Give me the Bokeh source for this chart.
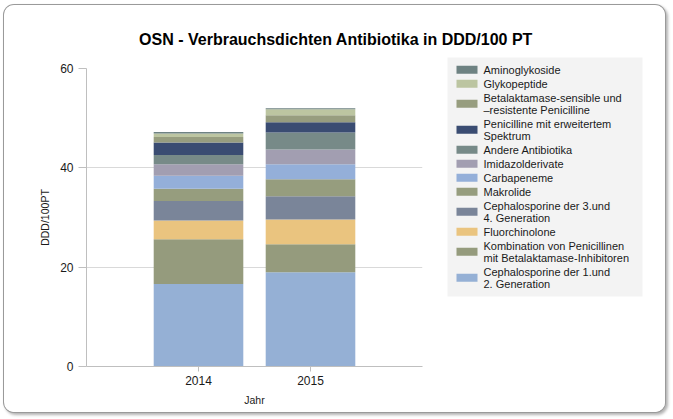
from bokeh.plotting import figure
from bokeh.layouts import column, row
from bokeh.models import FactorRange, Range1d, FixedTicker, ColumnDataSource
from bokeh.core.properties import value
from bokeh.embed import file_html
from bokeh.resources import INLINE

# ---------------- data ----------------
years = ["2014", "2015"]
# stacked bottom -> top
series = [
    "Cephalosporine der 1.und\n2. Generation",
    "Kombination von Penicillinen\nmit Betalaktamase-Inhibitoren",
    "Fluorchinolone",
    "Cephalosporine der 3.und\n4. Generation",
    "Makrolide",
    "Carbapeneme",
    "Imidazolderivate",
    "Andere Antibiotika",
    "Penicilline mit erweitertem\nSpektrum",
    "Betalaktamase-sensible und\n\u2013resistente Penicilline",
    "Glykopeptide",
    "Aminoglykoside",
]
values_2014 = [16.6, 9.0, 3.8, 3.9, 2.5, 2.6, 2.3, 1.9, 2.5, 1.1, 0.7, 0.3]
values_2015 = [19.0, 5.6, 5.0, 4.7, 3.4, 3.0, 3.0, 3.4, 2.1, 1.4, 1.2, 0.2]
colors = ["#95B0D5", "#959B7D", "#EAC47F", "#7A8599", "#969D7E", "#94AFD9",
          "#A29EB1", "#778A88", "#3A4C72", "#979D7F", "#BCC5A1", "#6E8282"]
y_ticks = [0, 20, 40, 60]
title_text = "OSN - Verbrauchsdichten Antibiotika in DDD/100 PT"
x_label = "Jahr"
y_label = "DDD/100PT"

# ---------------- layout (page px) ----------------
FONT = "Liberation Sans"
X0, Y0, X1, Y1 = 4, 5, 665, 412      # outer rounded box
TITLE_B = 55                          # bottom of title strip
SPLIT = 440                           # chart | legend split
FRAME_L, FRAME_R, FRAME_T, FRAME_B = 86, 422, 68, 366

# ---- title strip ----
pt = figure(width=X1 - X0, height=TITLE_B - Y0,
            x_range=Range1d(X0, X1), y_range=Range1d(TITLE_B, Y0),
            output_backend="svg", toolbar_location=None,
            min_border=0, outline_line_color=None, frame_align=False)
pt.axis.visible = False
pt.grid.visible = False
pt.text(x=[(X0 + X1) / 2 + 1], y=[39], text=[title_text],
        text_align="center", text_baseline="alphabetic",
        text_font=value(FONT), text_font_size="16px", text_font_style="bold",
        text_color="#000000")

# ---- chart ----
keys = [f"s{i}" for i in range(len(series))]
data = {"year": years}
for k, a, b in zip(keys, values_2014, values_2015):
    data[k] = [a, b]
source = ColumnDataSource(data)

p = figure(x_range=FactorRange(factors=years, range_padding=0.5),
           y_range=Range1d(0, 60), width=SPLIT - X0, height=Y1 - TITLE_B,
           output_backend="svg", toolbar_location=None,
           min_border_left=FRAME_L - X0, min_border_top=FRAME_T - TITLE_B,
           min_border_right=SPLIT - FRAME_R, min_border_bottom=Y1 - FRAME_B,
           outline_line_color=None, frame_align=False)

p.vbar_stack(keys, x="year", width=0.8, fill_color=colors, line_color=None,
             source=source)

for ax in (p.xaxis[0], p.yaxis[0]):
    ax.axis_line_color = "#BFBFBF"
    ax.major_tick_line_color = "#BFBFBF"
    ax.minor_tick_line_color = None
    ax.major_tick_in = 0
    ax.major_label_text_font = FONT
    ax.major_label_text_font_size = "12px"
    ax.major_label_text_color = "#1A1A1A"
    ax.axis_label_text_font = FONT
    ax.axis_label_text_font_size = "10.5px"
    ax.axis_label_text_font_style = "normal"
    ax.axis_label_text_color = "#1A1A1A"

p.yaxis.ticker = FixedTicker(ticks=y_ticks)
p.yaxis.major_tick_out = 8
p.yaxis.major_label_standoff = 5
p.yaxis.axis_label = y_label
p.yaxis.axis_label_standoff = 6
p.xaxis.major_tick_out = 5
p.xaxis.major_label_standoff = 4
p.xaxis.axis_label = x_label
p.xaxis.axis_label_standoff = 6

p.ygrid.ticker = FixedTicker(ticks=y_ticks)
p.ygrid.grid_line_color = "#D9D9D9"
p.xgrid.grid_line_color = None

# ---- legend ----
pl = figure(width=X1 - SPLIT, height=Y1 - TITLE_B,
            x_range=Range1d(SPLIT, X1), y_range=Range1d(Y1, TITLE_B),
            output_backend="svg", toolbar_location=None,
            min_border=0, outline_line_color=None, frame_align=False)
pl.axis.visible = False
pl.grid.visible = False
pl.quad(left=[447], right=[642], top=[57], bottom=[296],
        fill_color="#F3F3F3", line_color=None)

line_h, gap = 12, 2
ycur = 69.3
sw_l, sw_r, sw_t, sw_b, sw_c = [], [], [], [], []
tx, ty, tt = [], [], []
for name, col in list(zip(series, colors))[::-1]:
    lines = name.split("\n")
    ys = [ycur + i * line_h for i in range(len(lines))]
    yc = sum(ys) / len(ys)
    sw_l.append(456); sw_r.append(477)
    sw_t.append(yc - 4); sw_b.append(yc + 4); sw_c.append(col)
    for ln, yy in zip(lines, ys):
        tx.append(483); ty.append(yy); tt.append(ln)
    ycur = ys[-1] + line_h + gap

pl.quad(left=sw_l, right=sw_r, top=sw_t, bottom=sw_b, fill_color=sw_c, line_color=None)
pl.text(x=tx, y=ty, text=tt, text_align="left", text_baseline="middle",
        text_font=value(FONT), text_font_size="11px", text_color="#1A1A1A")

layout = column(pt, row(p, pl, spacing=0), spacing=0,
                styles={"margin-left": f"{X0}px", "margin-top": f"{Y0}px",
                        "border-radius": "10px", "overflow": "hidden",
                        "background-color": "white",
                        "box-shadow": "0px 0px 0px 1px #9A9A9A, 2px 2px 3px 1px rgba(0,0,0,0.30)"})

open("out.html", "w").write(file_html(layout, INLINE))
